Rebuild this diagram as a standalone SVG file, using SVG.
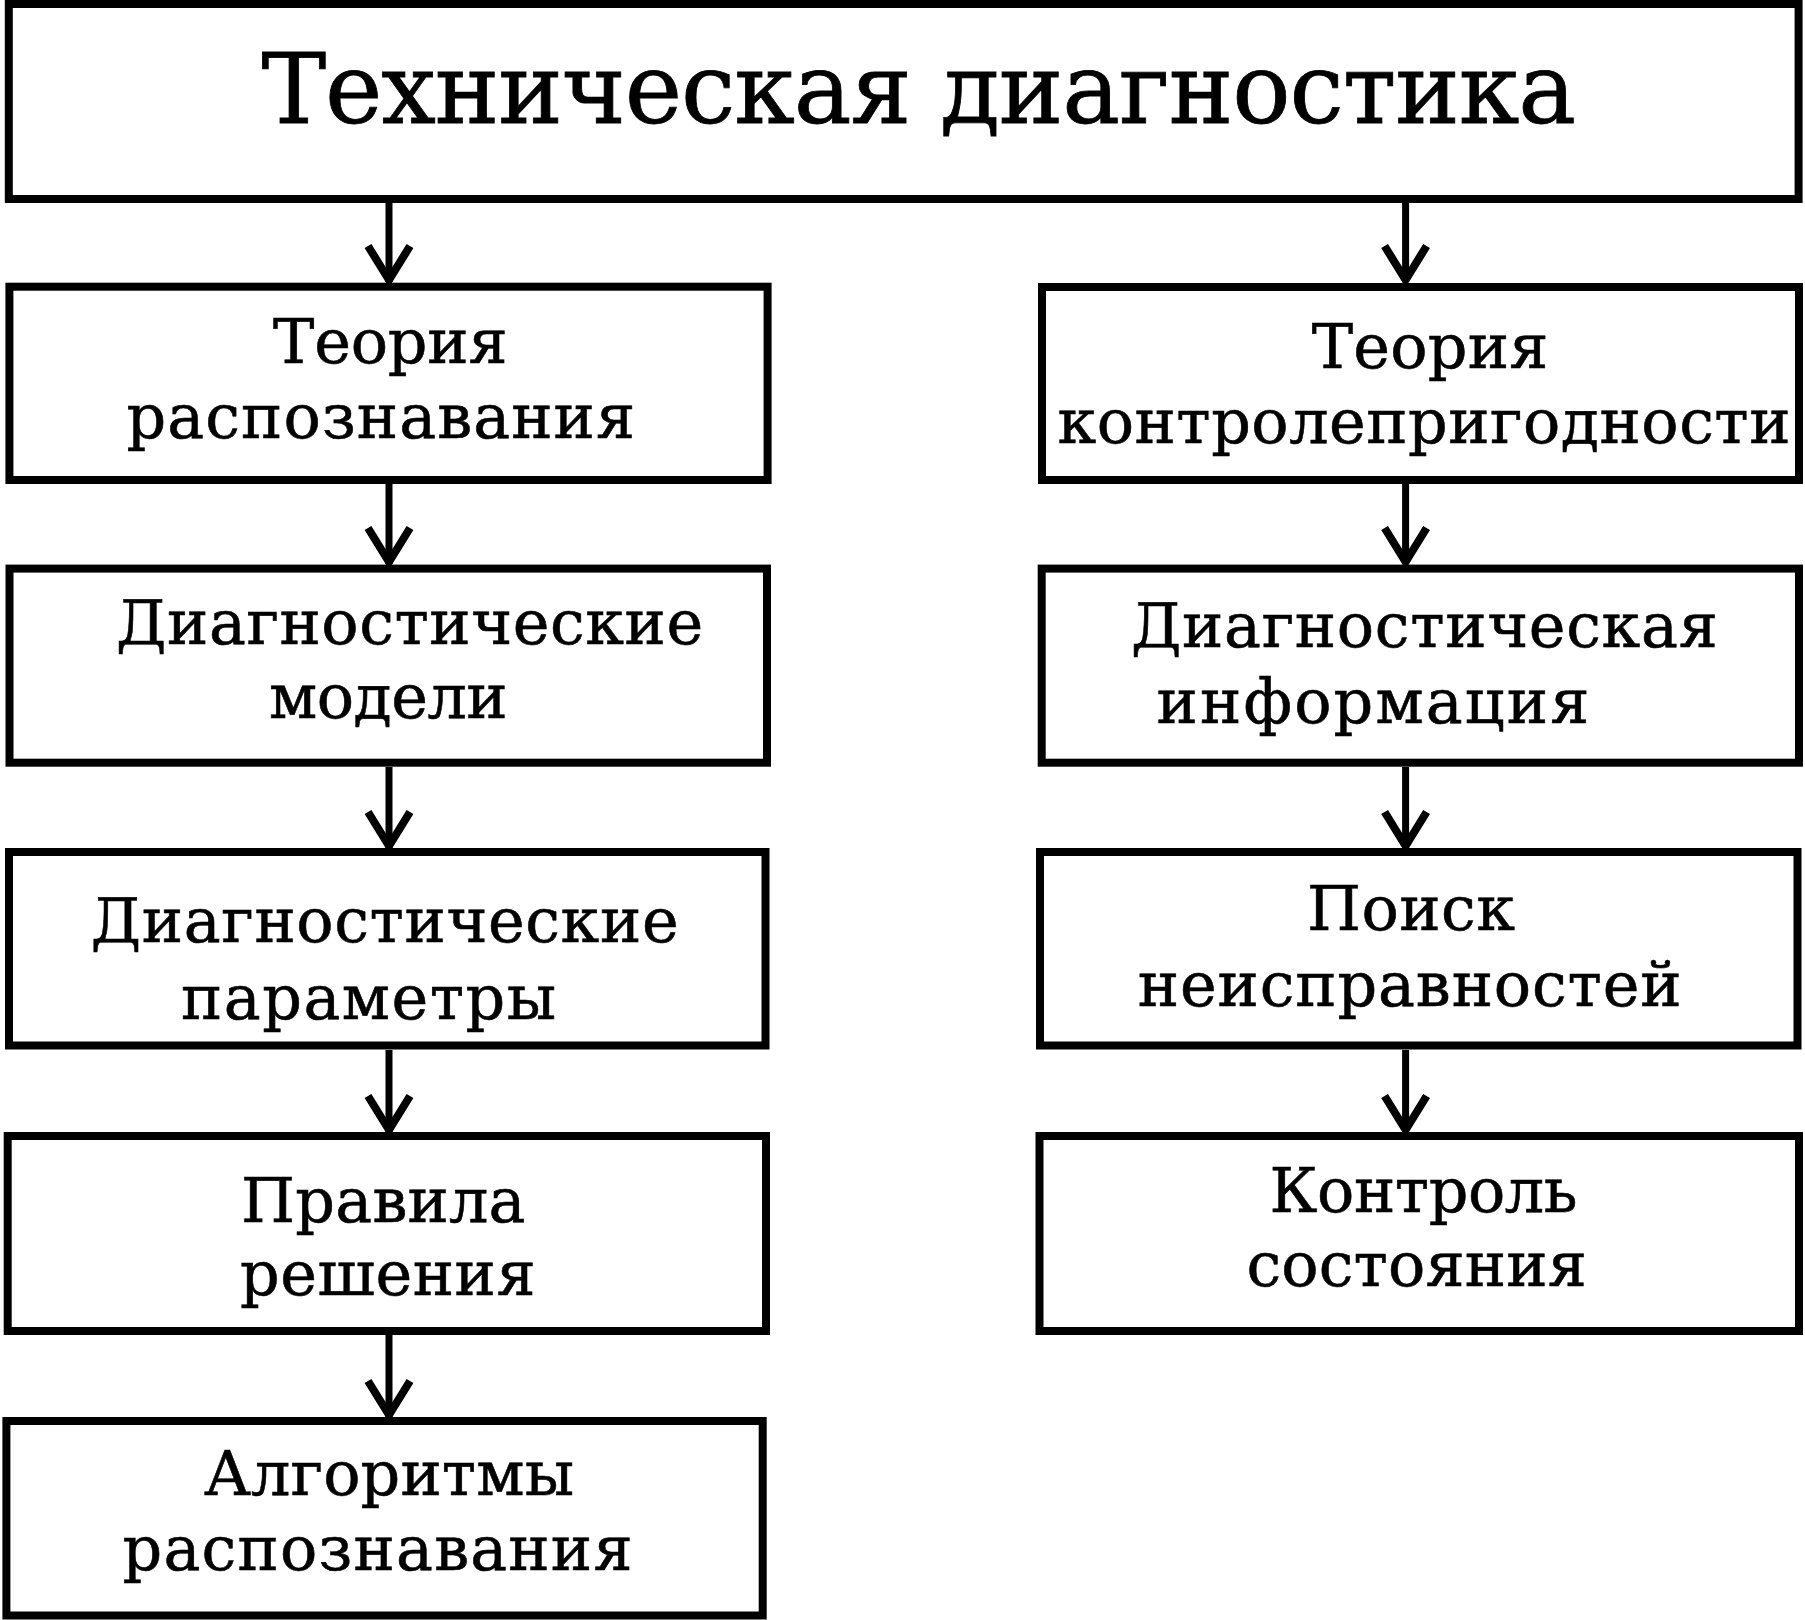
<svg xmlns="http://www.w3.org/2000/svg" width="1805" height="1620" viewBox="0 0 1805 1620">
<style>
.box{fill:#fff;stroke:#000;stroke-width:8}
.t{font-family:"DejaVu Serif","Liberation Serif",serif;font-size:62px;fill:#000;stroke:#000;stroke-width:0.6;text-anchor:middle}
.title{font-size:97px;stroke-width:0.8}
.ln{stroke:#000;stroke-width:7;fill:none}
.hd{stroke:#000;stroke-width:8;fill:none;stroke-linejoin:miter;stroke-miterlimit:4}
</style>
<rect width="1805" height="1620" fill="#fff"/>
<g id="connectors">
<line class="ln" x1="389" y1="203" x2="389" y2="282"/><polyline class="hd" points="368,246 389,280 410,246"/>
<line class="ln" x1="1405.6" y1="203" x2="1405.6" y2="282"/><polyline class="hd" points="1384.6,246 1405.6,280 1426.6,246"/>
<line class="ln" x1="389" y1="484" x2="389" y2="564"/><polyline class="hd" points="368,528 389,562 410,528"/>
<line class="ln" x1="1405.6" y1="484" x2="1405.6" y2="564"/><polyline class="hd" points="1384.6,528 1405.6,562 1426.6,528"/>
<line class="ln" x1="389" y1="767" x2="389" y2="848"/><polyline class="hd" points="368,812 389,846 410,812"/>
<line class="ln" x1="1405.6" y1="767" x2="1405.6" y2="848"/><polyline class="hd" points="1384.6,812 1405.6,846 1426.6,812"/>
<line class="ln" x1="389" y1="1050" x2="389" y2="1132"/><polyline class="hd" points="368,1096 389,1130 410,1096"/>
<line class="ln" x1="1405.6" y1="1050" x2="1405.6" y2="1132"/><polyline class="hd" points="1384.6,1096 1405.6,1130 1426.6,1096"/>
<line class="ln" x1="389" y1="1335" x2="389" y2="1417"/><polyline class="hd" points="368,1381 389,1415 410,1381"/>
</g>
<g id="n-top">
<rect class="box" x="8.8" y="4" width="1789.8" height="195"/>
<text class="t title" x="918.7" y="123.3" textLength="1314.6">Техническая диагностика</text>
</g>
<g id="n-l1">
<rect class="box" x="9.4" y="286.7" width="758.2" height="193.3"/>
<text class="t" x="390.3" y="363.3" textLength="234.6">Теория</text>
<text class="t" x="380.8" y="438.3" textLength="508.5">распознавания</text>
</g>
<g id="n-l2">
<rect class="box" x="9.5" y="568.6" width="757.5" height="194.1"/>
<text class="t" x="409.6" y="643.6" textLength="587">Диагностические</text>
<text class="t" x="388.3" y="717.5" textLength="238.6">модели</text>
</g>
<g id="n-l3">
<rect class="box" x="9" y="852" width="756.5" height="193.5"/>
<text class="t" x="384.7" y="941.8" textLength="587.8">Диагностические</text>
<text class="t" x="368.5" y="1018.6" textLength="375">параметры</text>
</g>
<g id="n-l4">
<rect class="box" x="7.7" y="1136" width="758.3" height="195"/>
<text class="t" x="383.3" y="1221.7" textLength="284.5">Правила</text>
<text class="t" x="387.8" y="1295" textLength="295.5">решения</text>
</g>
<g id="n-l5">
<rect class="box" x="6.4" y="1421" width="756.3" height="194.5"/>
<text class="t" x="389" y="1495" textLength="370">Алгоритмы</text>
<text class="t" x="377.5" y="1570" textLength="510">распознавания</text>
</g>
<g id="n-r1">
<rect class="box" x="1042" y="287" width="757" height="193"/>
<text class="t" x="1430" y="368.3" textLength="236.7">Теория</text>
<text class="t" x="1424" y="442.7" textLength="733">контролепригодности</text>
</g>
<g id="n-r2">
<rect class="box" x="1041.7" y="568.6" width="757.3" height="194.1"/>
<text class="t" x="1424.4" y="647" textLength="586.7">Диагностическая</text>
<text class="t" x="1373" y="722.9" textLength="432.8">информация</text>
</g>
<g id="n-r3">
<rect class="box" x="1040" y="852" width="757.5" height="193.5"/>
<text class="t" x="1411" y="930" textLength="208">Поиск</text>
<text class="t" x="1409.7" y="1006" textLength="544">неисправностей</text>
</g>
<g id="n-r4">
<rect class="box" x="1039.5" y="1136" width="759.5" height="195"/>
<text class="t" x="1423.5" y="1211.7" textLength="308">Контроль</text>
<text class="t" x="1416.6" y="1286" textLength="340.4">состояния</text>
</g>
</svg>
